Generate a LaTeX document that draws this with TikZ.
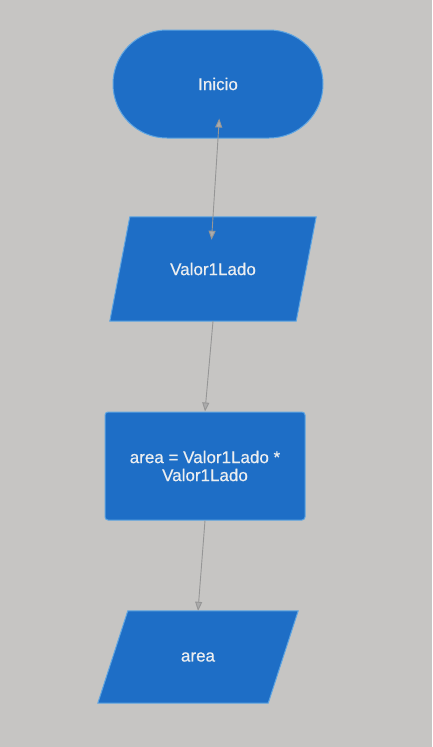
\documentclass[tikz,border=0pt]{standalone}
\usepackage{fontspec}
\setmainfont{Liberation Sans}
\newfontfamily\lblfont[FakeBold=0.5]{Liberation Sans}
\usetikzlibrary{arrows.meta,calc}
\definecolor{bgc}{RGB}{198,197,195}
\definecolor{boxc}{RGB}{30,110,198}
\definecolor{edgec}{RGB}{95,165,225}
\definecolor{txtc}{RGB}{236,238,240}
\definecolor{arrc}{RGB}{150,150,150}
\tikzset{
  lbl/.style={text=txtc,font=\lblfont\fontsize{17}{18}\selectfont,align=center,inner sep=0pt},
  boxfill/.style={fill=boxc,draw=edgec,line width=1pt},
  conn/.style={draw=arrc,line width=0.9pt,-{Triangle[length=9pt,width=7pt,fill=arrc!80]}},
  dconn/.style={draw=arrc,line width=0.9pt,{Triangle[length=9pt,width=7pt,fill=arrc!80]}-{Triangle[length=9pt,width=7pt,fill=arrc!80]}}
}
\begin{document}
\begin{tikzpicture}[x=1pt,y=-1pt]
\fill[bgc] (0,0) rectangle (432,747);
\useasboundingbox (0,0) rectangle (432,747);
% Inicio
\node[boxfill,rounded corners=53.9pt,minimum width=210pt,minimum height=108pt,inner sep=0pt] (ini) at (218,84) {};
\node[lbl] (tini) at (218,84) {Inicio};
% Valor1Lado parallelogram
\node[minimum width=206pt,minimum height=104pt,inner sep=0pt] (val) at (213,269) {};
\path[boxfill] ($(val.north west)+(20,0)$) -- (val.north east) -- ($(val.south east)+(-20,0)$) -- (val.south west) -- cycle;
\node[lbl] (tval) at (213,269) {Valor1Lado};
% process
\node[boxfill,rounded corners=3pt,minimum width=200pt,minimum height=108pt,inner sep=0pt] (proc) at (205,466) {};
\node[lbl] (tproc) at (205,466) {area = Valor1Lado *\\Valor1Lado};
% area parallelogram
\node[minimum width=200pt,minimum height=92pt,inner sep=0pt] (are) at (198,657) {};
\path[boxfill] ($(are.north west)+(30,0)$) -- (are.north east) -- ($(are.south east)+(-30,0)$) -- (are.south west) -- cycle;
\node[lbl] (tare) at (198,657) {area};
% connectors
\draw[dconn,shorten <=-20pt,shorten >=-23pt] (ini.south) -- (val.north);
\draw[conn] (val.south) -- (proc.north);
\draw[conn] (proc.south) -- (are.north);
\end{tikzpicture}
\end{document}
